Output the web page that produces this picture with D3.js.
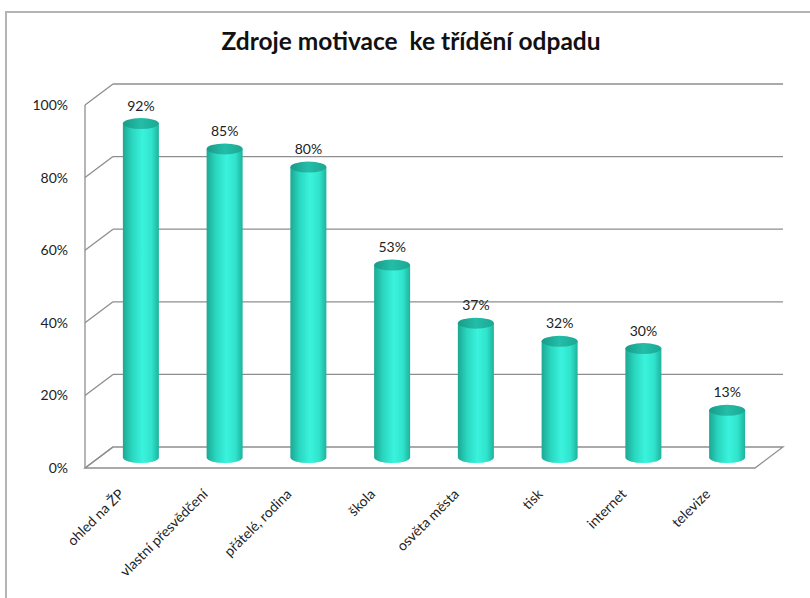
<!DOCTYPE html>
<html>
<head>
<meta charset="utf-8">
<script src="https://cdn.jsdelivr.net/npm/d3@7"></script>
<style>
  body { margin: 0; background: #fff; }
  svg { display: block; }
  text { font-family: Lato, "Open Sans", sans-serif; }
</style>
</head>
<body>
<svg id="chart" width="810" height="598"></svg>
<script>
const categories = ['ohled na ŽP', 'vlastní přesvědčení', 'přátelé, rodina', 'škola', 'osvěta města', 'tisk', 'internet', 'televize'];
const values = [0.92, 0.85, 0.80, 0.53, 0.37, 0.32, 0.30, 0.13];
const tickValues = [0, 0.2, 0.4, 0.6, 0.8, 1.0];
const title = 'Zdroje motivace  ke třídění odpadu';

const svg = d3.select('#chart');

// depth of the 3d box
const depthX = 28, depthY = -21;

// front plane scales
const x = d3.scaleBand().domain(categories).range([85, 755]);
const y = d3.scaleLinear().domain([0, 1]).range([468, 105]);
const pct = d3.format('.0%');

// outer frame
svg.append('path')
  .attr('d', 'M6,598 V12 H810')
  .attr('fill', 'none')
  .attr('stroke', '#b4b4b4')
  .attr('stroke-width', 2);

// title
svg.append('text')
  .attr('x', 411)
  .attr('y', 50)
  .attr('text-anchor', 'middle')
  .attr('font-size', 24.5)
  .attr('font-weight', 'bold')
  .attr('fill', '#111')
  .style('white-space', 'pre')
  .text(title);

// gradient for the cylinders
const defs = svg.append('defs');
const grad = defs.append('linearGradient').attr('id', 'cyl').attr('x1', 0).attr('x2', 1).attr('y1', 0).attr('y2', 0);
[[0, '#1ca893'], [0.25, '#2ad6bf'], [0.55, '#3af3dd'], [0.8, '#30e3cc'], [1, '#1eb39d']]
  .forEach(s => grad.append('stop').attr('offset', s[0]).attr('stop-color', s[1]));
const gradTop = defs.append('linearGradient').attr('id', 'cylTop').attr('x1', 0).attr('x2', 1).attr('y1', 0).attr('y2', 0);
[[0, '#179c88'], [0.5, '#24bda8'], [1, '#1aa893']]
  .forEach(s => gradTop.append('stop').attr('offset', s[0]).attr('stop-color', s[1]));

const x0 = x.range()[0], x1 = x.range()[1];
const grid = svg.append('g').attr('fill', 'none').attr('stroke', '#8e8e8e').attr('stroke-width', 1.3);

// floor
grid.append('path')
  .attr('d', `M${x0},${y(0)} H${x1} L${x1 + depthX},${y(0) + depthY} H${x0 + depthX} Z`)
  .attr('fill', '#fff');

// back wall gridlines and side wall diagonals
tickValues.forEach(v => {
  if (v > 0) {
    grid.append('line')
      .attr('x1', x0 + depthX).attr('x2', x1 + depthX)
      .attr('y1', y(v) + depthY).attr('y2', y(v) + depthY);
  }
  grid.append('line')
    .attr('x1', x0).attr('x2', x0 + depthX)
    .attr('y1', y(v)).attr('y2', y(v) + depthY);
});

// front vertical axis line
grid.append('line')
  .attr('x1', x0).attr('x2', x0)
  .attr('y1', y(0)).attr('y2', y(1));

// y tick labels
svg.append('g')
  .selectAll('text')
  .data(tickValues)
  .enter().append('text')
  .attr('x', 68)
  .attr('y', d => y(d) + 5)
  .attr('text-anchor', 'end')
  .attr('font-size', 14)
  .attr('fill', '#222')
  .text(d => pct(d));

// cylinders, sitting at half depth
const barW = x.bandwidth() * 0.43;
const rx = barW / 2, ry = 5.5;
const cx = d => x(d) + x.bandwidth() / 2 + depthX / 2;
const baseY = y(0) + depthY / 2;
const topY = v => y(v) + depthY / 2;

const bars = svg.append('g')
  .selectAll('g')
  .data(categories)
  .enter().append('g');

bars.append('path')
  .attr('d', (d, i) => {
    const c = cx(d), t = topY(values[i]);
    return `M${c - rx},${t} V${baseY} A${rx},${ry} 0 0 0 ${c + rx},${baseY} V${t} Z`;
  })
  .attr('fill', 'url(#cyl)');

bars.append('ellipse')
  .attr('cx', d => cx(d))
  .attr('cy', (d, i) => topY(values[i]))
  .attr('rx', rx)
  .attr('ry', ry)
  .attr('fill', 'url(#cylTop)');

// value labels
bars.append('text')
  .attr('x', d => cx(d))
  .attr('y', (d, i) => topY(values[i]) - 13)
  .attr('text-anchor', 'middle')
  .attr('font-size', 14)
  .attr('fill', '#222')
  .text((d, i) => pct(values[i]));

// category labels, rotated
svg.append('g')
  .selectAll('text')
  .data(categories)
  .enter().append('text')
  .attr('transform', d => `translate(${cx(d) - 16},${495}) rotate(-45)`)
  .attr('text-anchor', 'end')
  .attr('font-size', 14)
  .attr('fill', '#222')
  .text(d => d);
</script>
</body>
</html>
